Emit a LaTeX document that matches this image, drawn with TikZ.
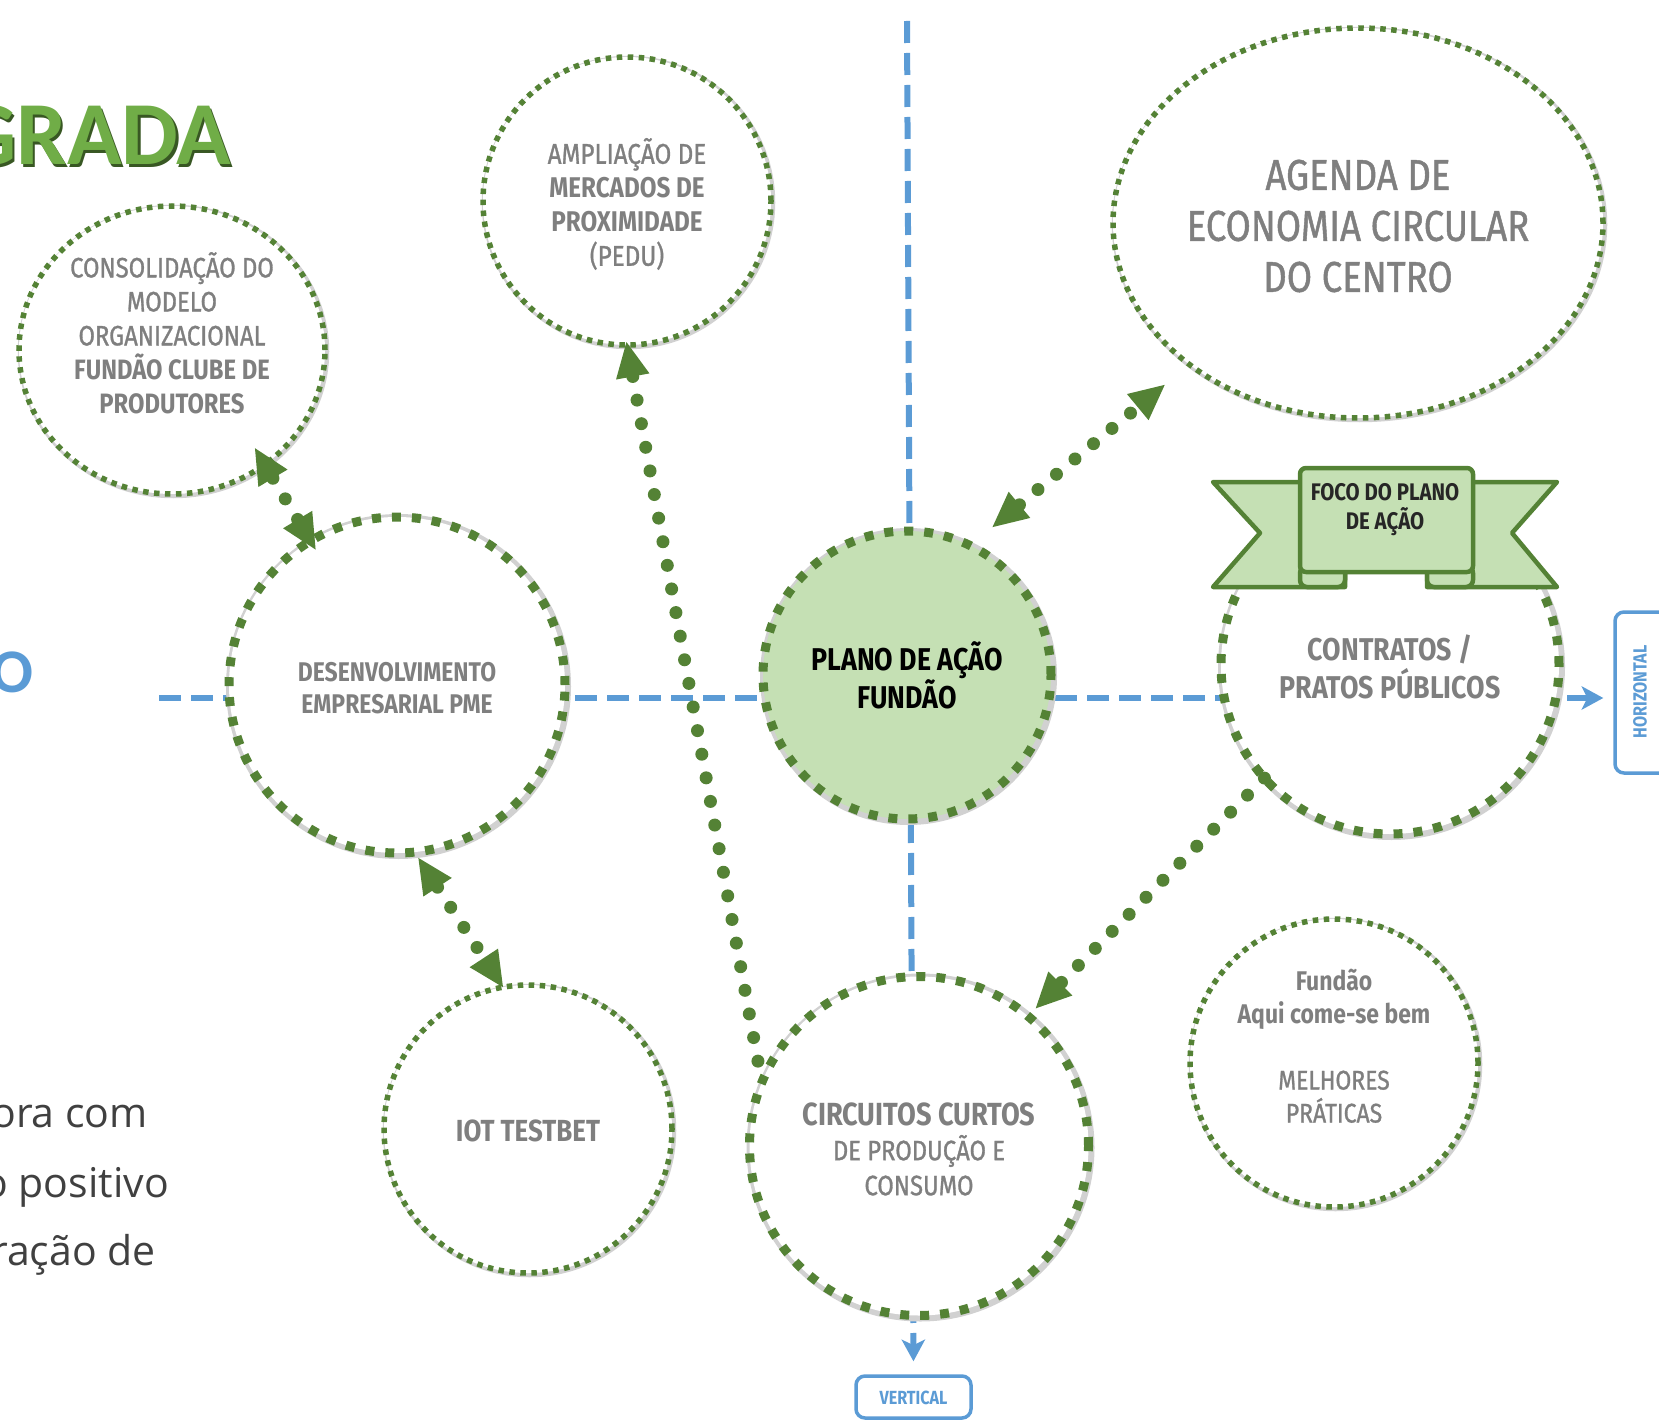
\documentclass[tikz,border=0pt]{standalone}
\usepackage{fontspec}
\usetikzlibrary{arrows.meta,shapes.geometric,calc}
\setmainfont{Fira Sans}
\newfontfamily\cf[FakeStretch=0.85]{Fira Sans}
\newfontfamily\cfm[FakeStretch=0.85,FakeBold=1.0]{Fira Sans}
\newfontfamily\calib{Carlito}
\newfontfamily\osans{Open Sans}
\definecolor{dg}{HTML}{548235}
\definecolor{lg}{HTML}{C5E0B4}
\definecolor{tg}{HTML}{70AD47}
\definecolor{tgd}{HTML}{385723}
\definecolor{gr}{HTML}{7F7F7F}
\definecolor{bl}{HTML}{5B9BD5}
\definecolor{dk}{HTML}{404040}
\definecolor{bk}{HTML}{262626}
\newcommand\myfs[2]{\fontsize{#1}{#2}\selectfont}
\tikzset{
  tri/.tip={Triangle[length=35pt,width=34pt,line width=0pt]},
  btip/.tip={Stealth[length=22pt,width=24pt,inset=6pt,line width=0pt]},
  thickc/.style={circle, draw=dg, fill=white, line width=9pt, dash pattern=on 9pt off 11pt,
    inner sep=0pt, outer sep=0pt,
    preaction={draw=black!18, solid, line width=9pt, transform canvas={shift={(1.5pt,-1.5pt)}}}},
  thinc/.style={circle, draw=dg, fill=white, line width=5.5pt, dash pattern=on 5.5pt off 5.5pt,
    inner sep=0pt, outer sep=0pt,
    preaction={draw=black!18, solid, line width=5.5pt, transform canvas={shift={(1.5pt,-1.5pt)}}}},
  conn/.style={draw=dg, line width=13pt, line cap=round, dash pattern=on 0pt off 24pt},
  blu/.style={draw=bl, line width=6pt, dash pattern=on 22pt off 10pt},
  bbox/.style={draw=bl, line width=3.5pt, rounded corners=9pt, fill=white, inner sep=0pt},
  ban/.style={fill=lg, draw=dg, line width=4.5pt, line join=round},
  gtxt/.style={text=gr, align=center, inner sep=0pt},
}
\begin{document}
\begin{tikzpicture}[x=1pt,y=-1pt]
\useasboundingbox (0,0) rectangle (1659,1420);

% title fragments
\node[anchor=base east, inner sep=0pt, text=tgd, font=\calib\bfseries\myfs{90}{90}] (titsh) at (233.5,167.5) {GRADA};
\node[anchor=base east, inner sep=0pt, text=tg, font=\calib\bfseries\myfs{90}{90}] (tit) at (231,165) {GRADA};
\node[anchor=base east, inner sep=0pt, text=bl, font=\calib\bfseries\myfs{62}{62}] (tit2) at (34,692) {ÃO};
\node[anchor=base east, inner sep=0pt, text=dk, font=\osans\myfs{41}{41}] (b1) at (148,1127) {ora com};
\node[anchor=base east, inner sep=0pt, text=dk, font=\osans\myfs{41}{41}] (b2) at (169,1197) {o positivo};
\node[anchor=base east, inner sep=0pt, text=dk, font=\osans\myfs{41}{41}] (b3) at (156,1265) {ração de};

% axes
\coordinate (hstart) at (159,698);
\coordinate (vstart) at (907,21);
\node[bbox, minimum width=60pt, minimum height=161pt] (hbox) at (1645,692.5) {};
\node[bbox, minimum width=115pt, minimum height=42pt] (vbox) at (913.5,1397) {};
\draw[blu, -{btip}, shorten >=10pt] (hstart) -- (hstart -| hbox.west);
\draw[blu, -{btip}, shorten >=13pt] (vstart) -- (vbox.north);
\node[rotate=90, text=bl, inner sep=0pt, font=\cf\bfseries\myfs{19}{19}] (htxt) at (1640,692) {HORIZONTAL};
\node[text=bl, inner sep=0pt, font=\cf\bfseries\myfs{19}{19}] (vtxt) at (913.5,1398) {VERTICAL};

% circles
\node[thinc, ellipse, minimum width=306pt, minimum height=288pt] (cons) at (172,350) {};
\node[thinc, minimum size=288pt] (merc) at (627,201) {};
\node[thinc, ellipse, minimum width=490pt, minimum height=390pt] (agenda) at (1358,223) {};
\node[thickc, minimum size=336pt] (dev) at (397,685) {};
\node[thickc, fill=lg, minimum size=288pt] (plano) at (907,675) {};
\node[thickc, minimum size=338pt] (contr) at (1390,665) {};
\node[thinc, minimum size=288pt] (iot) at (528,1129) {};
\node[thickc, minimum size=339pt] (circ) at (919,1146) {};
\node[thinc, minimum size=288pt] (fund) at (1334,1063) {};

% banner
\filldraw[ban] (1213,482) -- (1345,482) -- (1345,587) -- (1213,587) -- (1260,533) -- cycle;
\filldraw[ban] (1557,482) -- (1427,482) -- (1427,587) -- (1557,587) -- (1512,533) -- cycle;
\filldraw[ban, rounded corners=7pt] (1300,566) rectangle (1345,587);
\filldraw[ban, rounded corners=7pt] (1427,566) rectangle (1473,587);
\node[ban, rounded corners=6pt, minimum width=173pt, minimum height=104pt, inner sep=0pt] (focus) at (1386.5,520) {};
\node[text=bk, align=center, inner sep=0pt, font=\cf\bfseries\myfs{24}{29}] (focust) at (1385,510) {FOCO DO PLANO\\DE AÇÃO};

% connectors
\draw[conn, {tri}-{tri}, shorten <=-19pt, shorten >=-10pt] (cons.-51) -- (dev.121);
\draw[conn, {tri}-, shorten <=-3pt] (merc.-90) -- (circ.158);
\draw[conn, {tri}-{tri}, shorten <=29pt, shorten >=32pt] (plano.64) -- (agenda.220);
\draw[conn, -{tri}, shorten >=11pt] (contr.222) -- (circ.50);
\draw[conn, {tri}-{tri}, shorten <=7pt] (dev.-84.5) -- (iot.100);

% texts
\node[gtxt, font=\cfm\myfs{28}{34}] (const) at (172,333) {CONSOLIDAÇÃO DO\\MODELO\\ORGANIZACIONAL\\{\cf\bfseries FUNDÃO CLUBE DE}\\{\cf\bfseries PRODUTORES}};
\node[gtxt, font=\cfm\myfs{28.5}{34}] (merct) at (627,204) {AMPLIAÇÃO DE\\{\cf\bfseries MERCADOS DE}\\{\cf\bfseries PROXIMIDADE}\\(PEDU)};
\node[gtxt, font=\cfm\myfs{43}{51}] (agendat) at (1358,226) {AGENDA DE\\ECONOMIA CIRCULAR\\DO CENTRO};
\node[gtxt, font=\cf\bfseries\myfs{27}{32}] (devt) at (397,688) {DESENVOLVIMENTO\\EMPRESARIAL PME};
\node[align=center, inner sep=0pt, text=black, font=\cf\bfseries\myfs{31.5}{38}] (planot) at (907,675) {PLANO DE AÇÃO\\FUNDÃO};
\node[gtxt, font=\cf\bfseries\myfs{31.5}{38}] (contrt) at (1390,667) {CONTRATOS /\\PRATOS PÚBLICOS};
\node[gtxt, font=\cf\bfseries\myfs{30.5}{34}] (iott) at (528,1131) {IOT TESTBET};
\node[gtxt, font=\cfm\myfs{28}{35}] (circt) at (919,1149) {{\cf\bfseries\myfs{32}{35}CIRCUITOS CURTOS}\\DE PRODUÇÃO E\\CONSUMO};
\node[gtxt, font=\cfm\myfs{27}{33}] (fundt) at (1334,1046) {{\cf\bfseries Fundão}\\{\cf\bfseries Aqui come-se bem}\\[33pt]MELHORES\\PRÁTICAS};
\end{tikzpicture}
\end{document}
